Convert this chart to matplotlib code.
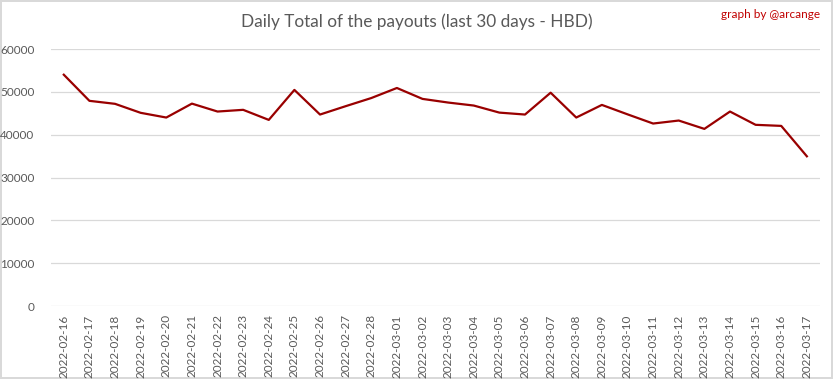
import matplotlib
matplotlib.use('Agg')
import matplotlib.pyplot as plt

dates = ['2022-02-16', '2022-02-17', '2022-02-18', '2022-02-19', '2022-02-20',
         '2022-02-21', '2022-02-22', '2022-02-23', '2022-02-24', '2022-02-25',
         '2022-02-26', '2022-02-27', '2022-02-28', '2022-03-01', '2022-03-02',
         '2022-03-03', '2022-03-04', '2022-03-05', '2022-03-06', '2022-03-07',
         '2022-03-08', '2022-03-09', '2022-03-10', '2022-03-11', '2022-03-12',
         '2022-03-13', '2022-03-14', '2022-03-15', '2022-03-16', '2022-03-17']
payouts = [54000, 47900, 47200, 45100, 44000, 47250, 45400, 45800, 43450, 50450,
           44700, 46650, 48550, 50900, 48350, 47500, 46800, 45150, 44700, 49800,
           44000, 46950, 44750, 42600, 43300, 41350, 45400, 42300, 42050, 34950]
yticks = [0, 10000, 20000, 30000, 40000, 50000, 60000]

plt.rcParams['font.family'] = ['Lato', 'DejaVu Sans']

fig = plt.figure(figsize=(8.33, 3.79), dpi=100)
fig.patch.set_facecolor('white')
fig.patch.set_edgecolor('#d9d9d9')
fig.patch.set_linewidth(1.5)

ax = fig.add_axes([0.0612, 0.1926, 0.9228, 0.6781])
x = list(range(len(dates)))
ax.plot(x, payouts, color='#990000', linewidth=1.6, zorder=3)

ax.set_xlim(-0.5, len(dates) - 0.5)
ax.set_ylim(0, 60000)
ax.set_yticks(yticks)
ax.set_yticklabels([str(v) for v in yticks])
ax.set_xticks(x)
ax.set_xticklabels(dates, rotation=90)
ax.grid(axis='y', color='#d9d9d9', linewidth=0.9)
ax.set_axisbelow(True)
for s in ax.spines.values():
    s.set_visible(False)
ax.tick_params(axis='both', length=0, colors='#595959', labelsize=8.5)
ax.tick_params(axis='y', pad=12)
ax.tick_params(axis='x', pad=6)

fig.text(0.5, 0.942, 'Daily Total of the payouts (last 30 days - HBD)',
         ha='center', va='center', fontsize=12.4, color='#595959')
fig.text(0.984, 0.962, 'graph by @arcange', ha='right', va='center',
         fontsize=8.5, color='#c00000')

fig.savefig('out.png', dpi=100, facecolor=fig.get_facecolor(),
            edgecolor=fig.get_edgecolor())
